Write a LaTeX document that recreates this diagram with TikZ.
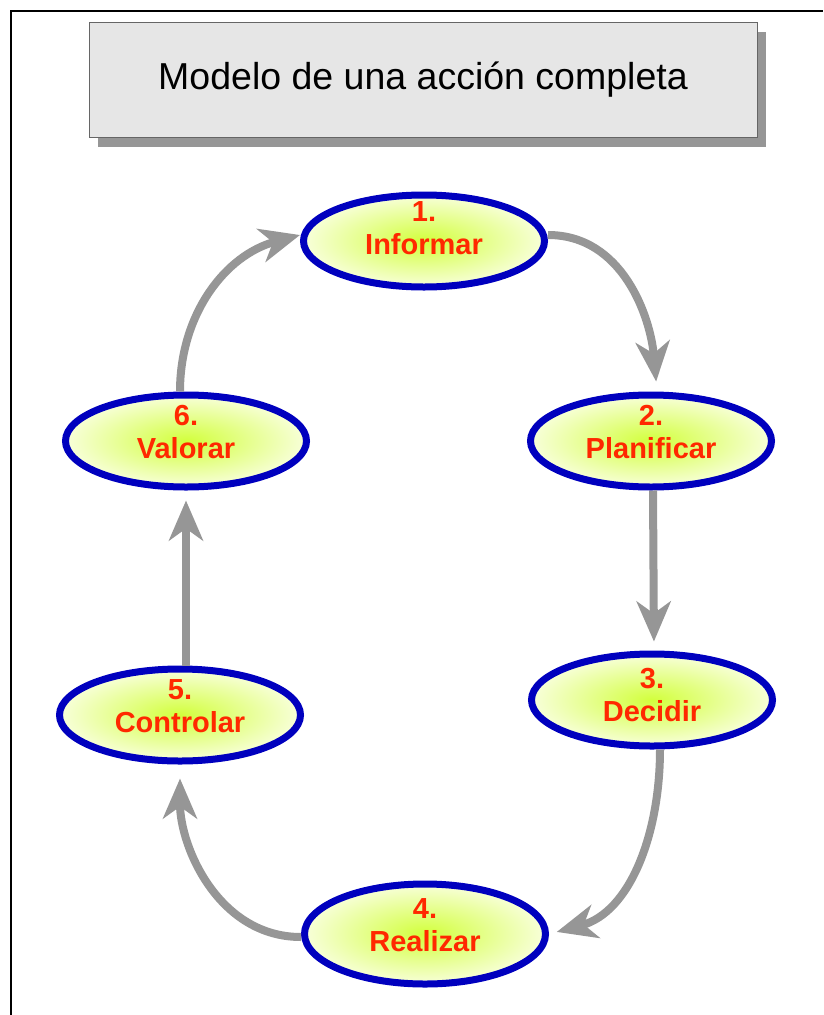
\documentclass[tikz,border=0pt]{standalone}
\usepackage{fontspec}
\setmainfont{Liberation Sans}
\usetikzlibrary{arrows.meta,shapes.geometric,shadows}

\definecolor{stepblue}{RGB}{0,0,190}
\definecolor{stepred}{RGB}{255,40,0}
\definecolor{arrowgray}{RGB}{150,150,150}
\definecolor{innergreen}{RGB}{210,255,60}
\definecolor{outergreen}{RGB}{248,255,218}
\definecolor{titlegray}{RGB}{230,230,230}

\begin{document}
\begin{tikzpicture}[x=1pt, y=-1pt,
    stepnode/.style={ellipse, draw=stepblue, line width=7pt, inner color=innergreen, outer color=outergreen,
        minimum width=241pt, minimum height=92pt, inner xsep=0pt, inner ysep=-25pt, align=center,
        text=stepred, text depth=18pt, font=\fontsize{29}{33}\selectfont\bfseries},
    cyclearrow/.style={draw=arrowgray, line width=8pt, -{Stealth[length=40pt, width=34pt, inset=12pt]}}]
    \useasboundingbox (0,0) rectangle (823,1015);

    % frame
    \draw[line width=2pt] (11,1015) -- (11,11) -- (823,11);

    % title
    \node[draw=gray!80!black, fill=titlegray, line width=1pt, minimum width=668pt, minimum height=115pt,
        drop shadow={shadow xshift=9pt, shadow yshift=-9pt, fill=arrowgray, opacity=1},
        font=\fontsize{37.5}{40}\selectfont] (title) at (423,80) {Modelo de una acción completa};

    % steps
    \node[stepnode, text depth=26pt] (inform) at (424,241) {1.\\Informar};
    \node[stepnode] (plan) at (651,441) {2.\\Planificar};
    \node[stepnode, text depth=10pt] (decid) at (652,700) {3.\\Decidir};
    \node[stepnode, minimum height=100pt] (realiz) at (425,934) {4.\\Realizar};
    \node[stepnode] (contr) at (180,715) {5.\\Controlar};
    \node[stepnode] (valor) at (186,441) {6.\\Valorar};

    % cycle
    \draw[cyclearrow, shorten >=10pt] ([yshift=6pt]inform.east) to[out=0, in=95] ([xshift=6pt]plan.north);
    \draw[cyclearrow, shorten >=9pt] ([xshift=2pt]plan.south) -- ([xshift=2pt]decid.north);
    \draw[cyclearrow, shorten >=8pt] ([xshift=8pt]decid.south) to[out=-90, in=15] (realiz.east);
    \draw[cyclearrow, shorten >=14pt] ([yshift=-3pt]realiz.west) to[out=180, in=-90] (contr.south);
    \draw[cyclearrow, shorten >=10pt] ([xshift=6pt]contr.north) -- (valor.south);
    \draw[cyclearrow] ([xshift=-6pt]valor.north) to[out=90, in=195] ([yshift=6pt]inform.west);
\end{tikzpicture}
\end{document}
